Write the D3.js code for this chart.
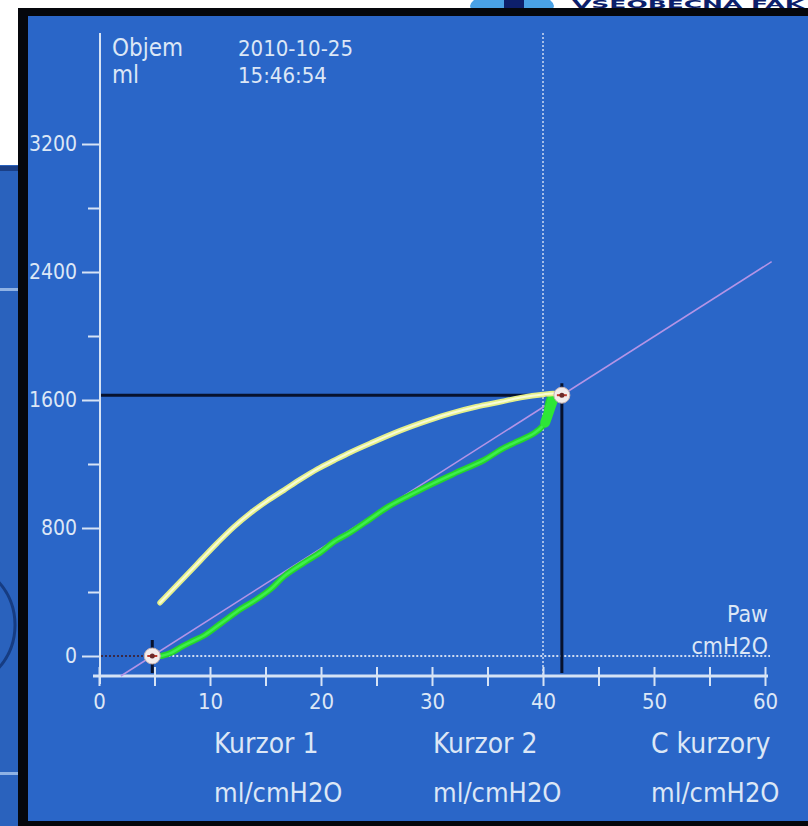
<!DOCTYPE html>
<html>
<head>
<meta charset="utf-8">
<script src="https://cdn.jsdelivr.net/npm/d3@7"></script>
<style>
  html, body { margin: 0; padding: 0; background: #ffffff; }
  svg { display: block; }
  .scr { font-family: "DejaVu Sans", "Liberation Sans", sans-serif; font-stretch: condensed; fill: #dce7f6; }
</style>
</head>
<body>
<svg id="chart" width="808" height="826"></svg>
<script>
// Pressure–volume loop, ventilator screen
const xTicks = [0, 10, 20, 30, 40, 50, 60];
const xMinorTicks = [5, 15, 25, 35, 45, 55];
const yTicks = [0, 800, 1600, 2400, 3200];
const yMinorTicks = [400, 1200, 2000, 2800];

// inspiratory limb (green): pressure cmH2O, volume ml
const inspPressure = [5.6, 6.5, 7.5, 8.5, 9.5, 11.0, 12.8, 14.0, 15.5, 16.7, 18.5, 20.0, 21.2, 22.7, 24.5, 26.1, 28.0, 30.0, 32.0, 34.7, 36.2, 37.5, 39.2, 40.0, 40.3, 40.4, 40.7, 41.3];
const inspVolume   = [0,   20,  60,  95,  130, 205,  295,  345,  420,  500,  585,  650,  715,  775,  860,  935,  1005, 1075, 1140, 1225, 1290, 1335, 1392, 1440, 1480, 1560, 1620, 1630];

// expiratory limb (yellow)
const expPressure = [5.5, 7.67, 9.18, 10.68, 12.17, 13.67, 15.18, 16.67, 18.17, 19.67, 21.17, 22.67, 24.47, 27.2, 29.5, 31.7, 34.0, 36.2, 38.0, 40.0, 41.0, 41.7];
const expVolume   = [333, 490,  600,  708,   808,   895,   970,   1037,  1105,  1168,  1222,  1274,  1330,  1410, 1468, 1517, 1558, 1589, 1615, 1635, 1640, 1630];

// cursors
const cursorPressure = [4.8, 41.7];
const cursorVolume = [0, 1630];

const headerLeft = ["Objem", "ml"];
const headerRight = ["2010-10-25", "15:46:54"];
const xUnit = ["Paw", "cmH2O"];
const footerTitles = ["Kurzor 1", "Kurzor 2", "C kurzory"];
const footerUnit = "ml/cmH2O";

const svg = d3.select("#chart");

// surroundings of the screen
svg.append("rect").attr("x", 0).attr("y", 165).attr("width", 20).attr("height", 661).attr("fill", "#2a62bd");
svg.append("rect").attr("x", 0).attr("y", 166).attr("width", 20).attr("height", 5).attr("fill", "#1a3f86");
svg.append("rect").attr("x", 0).attr("y", 288).attr("width", 20).attr("height", 3).attr("fill", "#8fb2e4");
svg.append("rect").attr("x", 0).attr("y", 772).attr("width", 20).attr("height", 3).attr("fill", "#8fb2e4");
svg.append("circle").attr("cx", -50).attr("cy", 625).attr("r", 65).attr("fill", "none").attr("stroke", "#163c82").attr("stroke-width", 3);
svg.append("ellipse").attr("cx", 512).attr("cy", 6).attr("rx", 42).attr("ry", 14).attr("fill", "#4aa2e6");
svg.append("rect").attr("x", 504).attr("y", -4).attr("width", 20).attr("height", 14).attr("fill", "#0d1f6b");
svg.append("text").attr("x", 572).attr("y", 8).attr("font-family", "DejaVu Sans, sans-serif").attr("font-weight", "bold")
  .attr("font-size", 10).attr("fill", "#0d1f6b").attr("textLength", 232).attr("lengthAdjust", "spacingAndGlyphs").text("VSEOBECNA FAK");

// monitor frame and panel
svg.append("rect").attr("x", 18).attr("y", 8).attr("width", 790).attr("height", 818).attr("fill", "#05070c");
svg.append("rect").attr("x", 28).attr("y", 16).attr("width", 780).attr("height", 805).attr("fill", "#2a66c8");

const x = d3.scaleLinear().domain([0, 60]).range([99, 765]);
const y = d3.scaleLinear().domain([0, 3200]).range([656, 144]);
const axisV = -125; // x-axis sits below zero volume

const g = svg.append("g");

// y axis
const yAxis = d3.axisLeft(y).tickValues(yTicks).tickSize(17).tickPadding(5).tickFormat(d3.format("d"));
const ya = g.append("g").attr("transform", `translate(${x(0)},0)`).call(yAxis);
ya.select(".domain").remove();
ya.selectAll(".tick line").attr("stroke", "#d6e3f5").attr("stroke-width", 2);
ya.selectAll(".tick text").attr("class", "scr").attr("font-size", 21).attr("fill", "#dce7f6");
const yMinor = d3.axisLeft(y).tickValues(yMinorTicks).tickSize(11).tickFormat("");
const ym = g.append("g").attr("transform", `translate(${x(0)},0)`).call(yMinor);
ym.select(".domain").remove();
ym.selectAll(".tick line").attr("stroke", "#d6e3f5").attr("stroke-width", 2);
g.append("line").attr("x1", x(0) + 1).attr("x2", x(0) + 1).attr("y1", 33).attr("y2", y(axisV) + 8)
  .attr("stroke", "#d6e3f5").attr("stroke-width", 2);

// x axis
const xAxis = d3.axisBottom(x).tickValues(xTicks).tickSize(10).tickPadding(7).tickFormat(d3.format("d"));
const xa = g.append("g").attr("transform", `translate(0,${y(axisV)})`).call(xAxis);
xa.select(".domain").remove();
xa.selectAll(".tick line").attr("stroke", "#d6e3f5").attr("stroke-width", 2).attr("y1", -9);
xa.selectAll(".tick text").attr("class", "scr").attr("font-size", 22).attr("fill", "#dce7f6");
const xMinor = d3.axisBottom(x).tickValues(xMinorTicks).tickSize(10).tickFormat("");
const xm = g.append("g").attr("transform", `translate(0,${y(axisV)})`).call(xMinor);
xm.select(".domain").remove();
xm.selectAll(".tick line").attr("stroke", "#d6e3f5").attr("stroke-width", 2).attr("y1", -9);
g.append("line").attr("x1", x(0) - 6).attr("x2", x(60) + 3).attr("y1", y(axisV)).attr("y2", y(axisV))
  .attr("stroke", "#d6e3f5").attr("stroke-width", 3);

// zero-volume dotted line and 40 cmH2O dotted line
g.append("line").attr("x1", x(cursorPressure[0])).attr("x2", x(60) + 5).attr("y1", y(0)).attr("y2", y(0))
  .attr("stroke", "#cfdcf2").attr("stroke-width", 2).attr("stroke-dasharray", "2,2");
g.append("line").attr("x1", x(0) + 2).attr("x2", x(cursorPressure[0])).attr("y1", y(0)).attr("y2", y(0))
  .attr("stroke", "#3a2a48").attr("stroke-width", 2).attr("stroke-dasharray", "2,2");
g.append("line").attr("x1", x(40)).attr("x2", x(40)).attr("y1", 33).attr("y2", y(axisV))
  .attr("stroke", "#cfdcf2").attr("stroke-width", 1.5).attr("stroke-dasharray", "2,2");

// compliance line through the two cursors
const slope = (cursorVolume[1] - cursorVolume[0]) / (cursorPressure[1] - cursorPressure[0]);
const pStart = cursorPressure[0] + (axisV - cursorVolume[0]) / slope;
const pEnd = 60.6;
g.append("line")
  .attr("x1", x(pStart)).attr("y1", y(axisV))
  .attr("x2", x(pEnd)).attr("y2", y(cursorVolume[0] + slope * (pEnd - cursorPressure[0])))
  .attr("stroke", "#b494e6").attr("stroke-width", 1.5);

// cursor crosshair lines
g.append("line").attr("x1", x(0) + 2).attr("x2", x(cursorPressure[1])).attr("y1", y(cursorVolume[1])).attr("y2", y(cursorVolume[1]))
  .attr("stroke", "#07122e").attr("stroke-width", 3);
g.append("line").attr("x1", x(cursorPressure[1])).attr("x2", x(cursorPressure[1])).attr("y1", y(cursorVolume[1]) - 12).attr("y2", y(axisV) - 3)
  .attr("stroke", "#07122e").attr("stroke-width", 3);
g.append("line").attr("x1", x(cursorPressure[0])).attr("x2", x(cursorPressure[0])).attr("y1", y(0) - 16).attr("y2", y(axisV) - 3)
  .attr("stroke", "#07122e").attr("stroke-width", 3);

// loop limbs
const line = d3.line().x(d => x(d[0])).y(d => y(d[1])).curve(d3.curveCatmullRom);
const insp = inspPressure.map((p, i) => [p, inspVolume[i]]);
const exp = expPressure.map((p, i) => [p, expVolume[i]]);
g.append("path").datum(insp).attr("d", line).attr("fill", "none").attr("stroke", "#25d52c").attr("stroke-width", 6).attr("stroke-linecap", "round");
g.append("path").datum(insp).attr("d", line).attr("fill", "none").attr("stroke", "#3ef04a").attr("stroke-width", 2.5).attr("stroke-linecap", "round");
g.append("path").datum([[40.2, 1460], [40.6, 1540], [40.9, 1600]]).attr("d", line).attr("fill", "none").attr("stroke", "#2ee636").attr("stroke-width", 10).attr("stroke-linecap", "round");
g.append("path").datum(exp).attr("d", line).attr("fill", "none").attr("stroke", "#e4ef8a").attr("stroke-width", 5.5).attr("stroke-linecap", "round");
g.append("path").datum(exp).attr("d", line).attr("fill", "none").attr("stroke", "#f8fcd8").attr("stroke-width", 2).attr("stroke-linecap", "round");

// cursor markers
cursorPressure.forEach((p, i) => {
  const cx = x(p), cy = y(cursorVolume[i]);
  g.append("circle").attr("cx", cx).attr("cy", cy).attr("r", 8).attr("fill", "#f2ecec").attr("stroke", "#c8b4b4").attr("stroke-width", 1);
  g.append("line").attr("x1", cx - 5).attr("x2", cx + 5).attr("y1", cy).attr("y2", cy).attr("stroke", "#c0392b").attr("stroke-width", 2);
  g.append("circle").attr("cx", cx).attr("cy", cy).attr("r", 2.5).attr("fill", "#6b2a2a");
});

// texts
const t = (txt, tx, ty, size, anchor) => svg.append("text").attr("class", "scr").attr("x", tx).attr("y", ty)
  .attr("font-size", size).attr("text-anchor", anchor || "start").text(txt);
headerLeft.forEach((s, i) => t(s, 112, 56 + i * 27, 24));
headerRight.forEach((s, i) => t(s, 238, 56 + i * 27, 22));
t(xUnit[0], 768, 622, 23, "end");
t(xUnit[1], 768, 654, 23, "end");
const footX = [214, 433, 651];
footerTitles.forEach((s, i) => {
  t(s, footX[i], 753, 28);
  t(footerUnit, footX[i], 802, 27);
});
</script>
</body>
</html>
